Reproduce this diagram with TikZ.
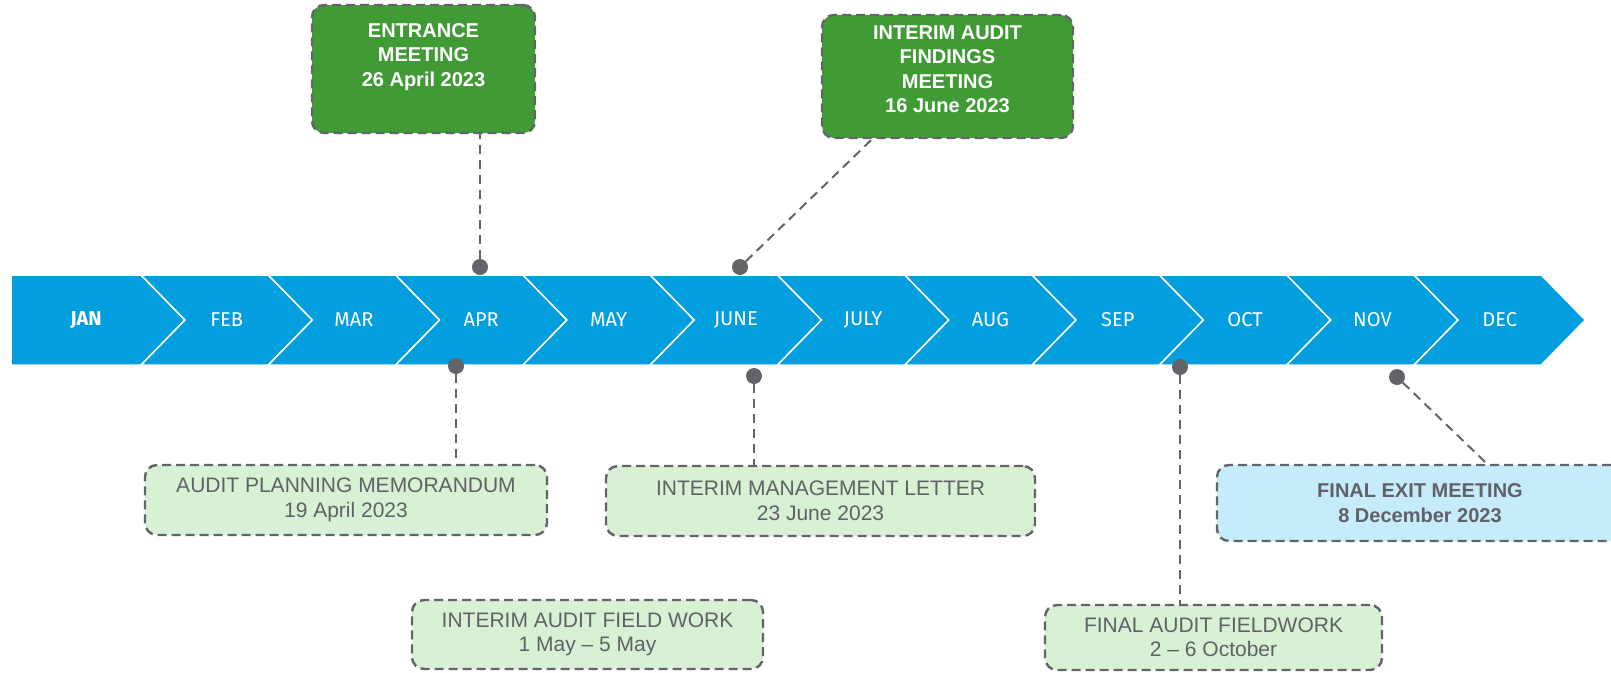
\documentclass[tikz,border=0pt]{standalone}
\usepackage{fontspec}
\setmainfont{Liberation Sans}
\newfontfamily\monthfont{Fira Sans}
\usepackage{tikz}
\definecolor{bandblue}{RGB}{3,158,222}
\definecolor{meetgreen}{RGB}{64,155,53}
\definecolor{palegreen}{RGB}{216,240,211}
\definecolor{paleblue}{RGB}{198,236,252}
\definecolor{dotgray}{RGB}{99,100,106}
\definecolor{textgray}{RGB}{96,97,102}
\tikzset{
  box/.style={draw=dotgray, line width=2.4pt, dash pattern=on 9pt off 5pt,
    rounded corners=12pt, align=center, inner sep=0pt},
  meetbox/.style={box, fill=meetgreen, text=white,
    font=\fontsize{20}{24.5}\selectfont\bfseries},
  workbox/.style={box, fill=palegreen, text=textgray,
    font=\fontsize{21}{24.5}\selectfont},
  exitbox/.style={box, fill=paleblue, text=textgray,
    font=\fontsize{20}{24.5}\selectfont\bfseries},
  dot/.style={circle, fill=dotgray, inner sep=0pt, minimum size=16pt},
  link/.style={draw=dotgray, line width=2pt, dash pattern=on 9pt off 6pt},
  month/.style={text=white, font=\monthfont\fontsize{20}{24}\selectfont}
}

\begin{document}
\begin{tikzpicture}[x=1pt, y=-1pt]
 \useasboundingbox (0,0) rectangle (1611,672);
 \clip (0,0) rectangle (1611,672);
 % month band
 \foreach \m [count=\i] in {JAN,FEB,MAR,APR,MAY,JUNE,JULY,AUG,SEP,OCT,NOV,DEC} {
  \pgfmathsetmacro{\xr}{141+127.3*(\i-1)}
  \pgfmathsetmacro{\xl}{\xr-127.3}
  \ifnum\i=1
   \filldraw[fill=bandblue, draw=white, line width=1.5pt]
     (11,275) -- (\xr,275) -- ++(44,45) -- (\xr,365) -- (11,365) -- cycle;
   \node[month, font=\monthfont\fontsize{20}{24}\selectfont\bfseries] (m\i) at (86,320) {\m};
  \else
   \filldraw[fill=bandblue, draw=white, line width=1.5pt]
     (\xl,275) -- (\xr,275) -- ++(44,45) -- (\xr,365) -- (\xl,365) -- ++(44,-45) -- cycle;
   \node[month] (m\i) at ({(\xl+\xr)/2+22},320) {\m};
  \fi
 }
 % events above the band
 \node[meetbox, minimum width=223pt, minimum height=128pt, text depth=28pt] (entr) at (423.5,69) {ENTRANCE\\MEETING\\26 April 2023};
 \node[meetbox, minimum width=251pt, minimum height=123pt, text depth=15pt] (find) at (947.5,76.5) {INTERIM AUDIT\\FINDINGS\\MEETING\\16 June 2023};
 \node[dot] (dEntr) at (480,267) {};
 \node[dot] (dFind) at (740,267) {};
 \draw[link] (dEntr) -- (dEntr |- entr.south);
 \draw[link] (dFind) -- ([xshift=-75.5pt]find.south);
 % events below the band
 \node[workbox, minimum width=402pt, minimum height=70pt] (plan) at (346,500) {AUDIT PLANNING MEMORANDUM\\19 April 2023};
 \node[workbox, minimum width=429pt, minimum height=70pt] (mgmt) at (820.5,501) {INTERIM MANAGEMENT LETTER\\23 June 2023};
 \node[workbox, minimum width=351pt, minimum height=69pt] (field) at (587.5,634.5) {INTERIM AUDIT FIELD WORK\\1 May -- 5 May};
 \node[workbox, minimum width=337pt, minimum height=65pt] (fwork) at (1213.5,637.5) {FINAL AUDIT FIELDWORK\\2 -- 6 October};
 \node[exitbox, minimum width=406pt, minimum height=76pt] (exit) at (1420,503) {FINAL EXIT MEETING\\8 December 2023};
 \node[dot] (dPlan) at (456,366) {};
 \node[dot] (dMgmt) at (754,376) {};
 \node[dot] (dFwork) at (1180,367) {};
 \node[dot] (dExit) at (1397,377) {};
 \draw[link] (dPlan) -- (dPlan |- plan.north);
 \draw[link] (dMgmt) -- (dMgmt |- mgmt.north);
 \draw[link] (dFwork) -- (dFwork |- fwork.north);
 \draw[link] (dExit) -- ([xshift=67pt]exit.north);
\end{tikzpicture}
\end{document}
